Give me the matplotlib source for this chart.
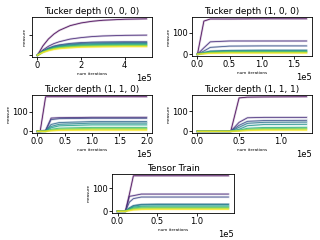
import matplotlib
matplotlib.use("Agg")
import matplotlib.pyplot as plt
from matplotlib.ticker import MultipleLocator
import numpy as np

titles = ["Tucker depth (0, 0, 0)", "Tucker depth (1, 0, 0)", "Tucker depth (1, 1, 0)",
          "Tucker depth (1, 1, 1)", "Tensor Train"]
xtick_steps = [2e5, 0.5e5, 0.5e5, 0.5e5, 0.5e5]

x1 = [0, 0.25e5, 0.5e5, 0.75e5, 1e5, 1.5e5, 2e5, 2.5e5, 3e5, 4e5, 5e5]
y1 = [
    [0, 45, 78, 102, 120, 143, 156, 164, 169, 174, 176],
    [0, 25, 43, 56, 65, 78, 85, 90, 93, 96, 97],
    [0, 20, 34, 44, 50, 57, 61, 63, 64, 65, 65],
    [0, 19, 32, 41, 47, 53, 57, 59, 60, 61, 61],
    [0, 18, 30, 39, 44, 50, 53, 55, 56, 57, 57],
    [0, 17, 28, 36, 41, 46, 49, 51, 52, 53, 53],
    [0, 16, 26, 34, 38, 43, 46, 48, 49, 50, 50],
    [0, 15, 25, 32, 36, 41, 44, 45, 46, 47, 47],
    [0, 14, 23, 30, 34, 38, 41, 42, 43, 44, 44],
    [0, 13, 21, 27, 31, 35, 38, 39, 40, 41, 41],
]

x2 = [0, 0.1e5, 0.2e5, 0.5e5, 1.0e5, 1.7e5]
y2 = [
    [0, 155, 165, 165, 166, 166],
    [0, 30, 58, 62, 62, 62],
    [0, 15, 32, 38, 39, 39],
    [0, 8, 15, 18, 19, 19],
    [0, 6, 12, 15, 16, 16],
    [0, 5, 10, 12, 13, 13],
    [0, 4, 8, 10, 10, 10],
    [0, 3, 6, 8, 8, 8],
    [0, 2, 4, 5, 5, 5],
]

x3 = [0, 0.05e5, 0.15e5, 0.25e5, 0.4e5, 1.0e5, 2.0e5]
y3 = [
    [0, 0, 178, 178, 178, 178, 178],
    [0, 0, 5, 68, 70, 72, 72],
    [0, 0, 3, 60, 65, 67, 67],
    [0, 0, 2, 35, 45, 50, 50],
    [0, 0, 1, 25, 36, 42, 42],
    [0, 0, 0, 18, 28, 33, 33],
    [0, 0, 0, 10, 16, 20, 20],
    [0, 0, 0, 6, 11, 15, 15],
    [0, 0, 0, 4, 7, 10, 10],
    [0, 0, 0, 2, 4, 5, 5],
]

x4 = [0, 0.4e5, 0.5e5, 0.6e5, 0.8e5, 1.31e5]
y4 = [
    [0, 0, 168, 172, 173, 174],
    [0, 0, 45, 68, 70, 70],
    [0, 0, 30, 50, 54, 55],
    [0, 0, 20, 40, 45, 46],
    [0, 0, 10, 28, 34, 35],
    [0, 0, 5, 15, 19, 20],
    [0, 0, 3, 10, 14, 15],
    [0, 0, 2, 6, 9, 10],
    [0, 0, 1, 3, 5, 5],
]

x5 = [0, 0.1e5, 0.15e5, 0.2e5, 0.3e5, 0.5e5, 1.4e5]
y5 = [
    [0, 0, 75, 155, 155, 155, 155],
    [0, 0, 65, 68, 75, 75, 75],
    [0, 0, 40, 55, 62, 62, 62],
    [0, 0, 15, 25, 30, 31, 31],
    [0, 0, 12, 22, 28, 29, 29],
    [0, 0, 10, 18, 22, 23, 23],
    [0, 0, 8, 14, 18, 18, 18],
    [0, 0, 6, 11, 14, 15, 15],
    [0, 0, 4, 8, 10, 11, 11],
    [0, 0, 2, 5, 7, 8, 8],
]

panels = [(x1, y1), (x2, y2), (x3, y3), (x4, y4), (x5, y5)]

W, H = 320, 240
rects = [
    (32, 17, 120, 40),
    (192, 17, 120, 39),
    (32, 95, 120, 38),
    (192, 95, 120, 38),
    (112, 174, 122, 39),
]

fig = plt.figure(figsize=(3.2, 2.4), dpi=100)
for i, ((xs, ys), (l, t, w, h)) in enumerate(zip(panels, rects)):
    ax = fig.add_axes([l / W, (H - t - h) / H, w / W, h / H])
    n = len(ys)
    cmap = plt.get_cmap("viridis")
    for j, yv in enumerate(ys):
        c = cmap(j / (n - 1))
        ax.plot(xs, yv, color=c, lw=1.6, alpha=0.22)
        ax.plot(xs, yv, color=c, lw=0.6, alpha=0.9)
    ax.set_title(titles[i], fontsize=6.4, pad=2)
    ax.set_xlabel("num iterations", fontsize=3, labelpad=1)
    ax.set_ylabel("measure", fontsize=3, labelpad=1)
    ax.xaxis.set_major_locator(MultipleLocator(xtick_steps[i]))
    ax.ticklabel_format(axis="x", style="sci", scilimits=(0, 0))
    ax.xaxis.get_offset_text().set_fontsize(6)
    ax.tick_params(labelsize=6, length=2, width=0.6, pad=1)
    ax.set_yticks([0, 100])
    if i == 0:
        ax.set_yticklabels(["", ""])
    for s in ax.spines.values():
        s.set_linewidth(0.6)

fig.savefig("out.png", dpi=100)
